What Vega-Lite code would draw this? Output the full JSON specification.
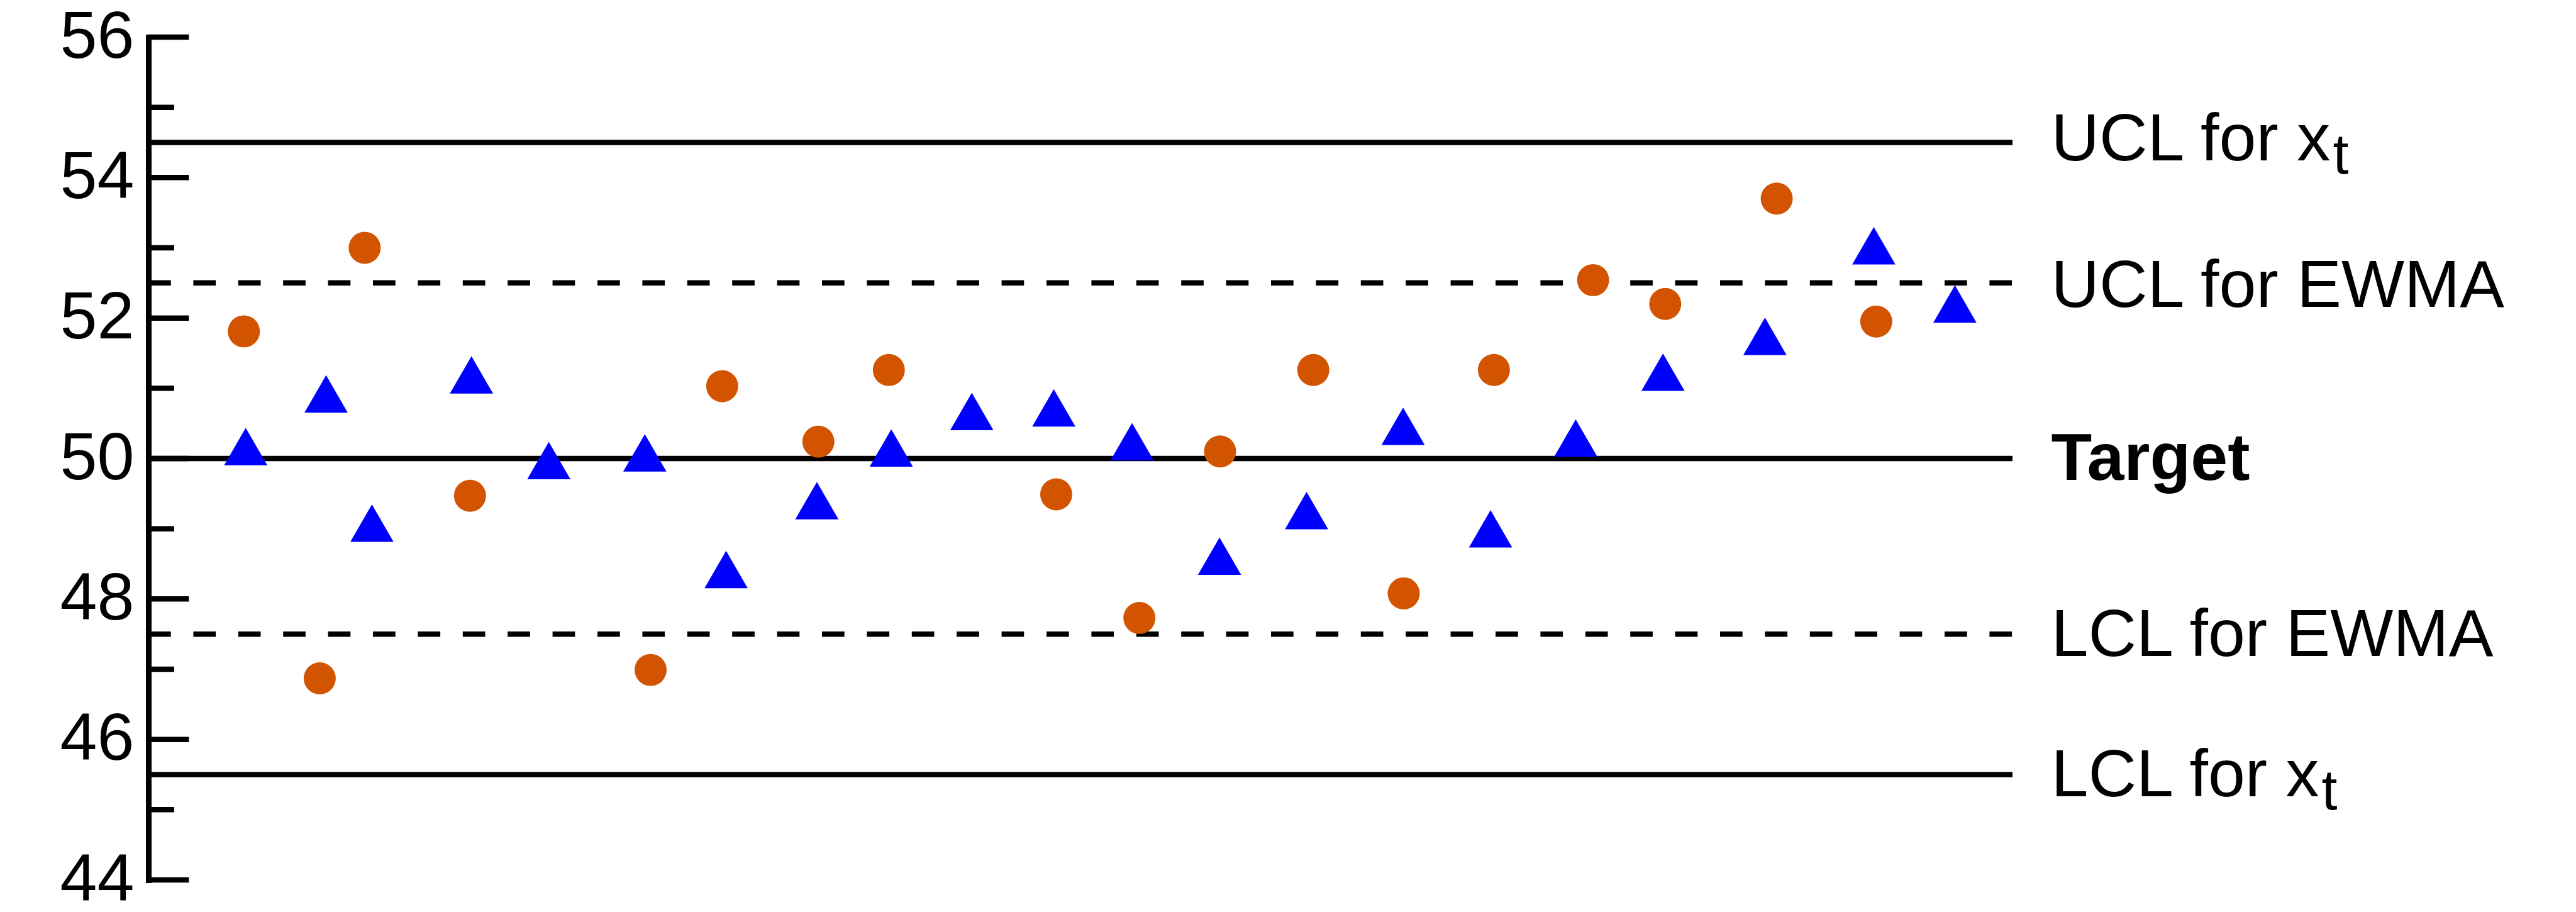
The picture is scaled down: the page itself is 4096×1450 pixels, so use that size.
{
  "$schema": "https://vega.github.io/schema/vega-lite/v6.json",
  "width": 2964,
  "height": 1340,
  "autosize": {"type": "none"},
  "padding": {"left": 236, "top": 59, "right": 896, "bottom": 51},
  "background": "white",
  "config": {"view": {"stroke": null}, "font": "Liberation Sans"},
  "datasets": {
    "xt": [
      {"t": 5.12, "v": 51.81}, {"t": 9.19, "v": 46.87}, {"t": 11.60, "v": 53.00}, {"t": 17.25, "v": 49.47},
      {"t": 26.94, "v": 46.99}, {"t": 30.78, "v": 51.03}, {"t": 35.94, "v": 50.24}, {"t": 39.72, "v": 51.26},
      {"t": 48.70, "v": 49.49}, {"t": 53.16, "v": 47.73}, {"t": 57.49, "v": 50.10}, {"t": 62.49, "v": 51.26},
      {"t": 67.34, "v": 48.08}, {"t": 72.18, "v": 51.26}, {"t": 77.50, "v": 52.54}, {"t": 81.37, "v": 52.20},
      {"t": 87.35, "v": 53.70}, {"t": 92.69, "v": 51.95}
    ],
    "ewma": [
      {"t": 5.22, "v": 50.17}, {"t": 9.53, "v": 50.92}, {"t": 11.99, "v": 49.08}, {"t": 17.33, "v": 51.19},
      {"t": 21.48, "v": 49.97}, {"t": 26.63, "v": 50.08}, {"t": 30.99, "v": 48.42}, {"t": 35.86, "v": 49.40},
      {"t": 39.85, "v": 50.15}, {"t": 44.17, "v": 50.67}, {"t": 48.57, "v": 50.72}, {"t": 52.77, "v": 50.24},
      {"t": 57.46, "v": 48.61}, {"t": 62.13, "v": 49.26}, {"t": 67.31, "v": 50.46}, {"t": 72.00, "v": 49.00},
      {"t": 76.57, "v": 50.29}, {"t": 81.25, "v": 51.23}, {"t": 86.72, "v": 51.74}, {"t": 92.56, "v": 53.03},
      {"t": 96.91, "v": 52.20}
    ],
    "limits": [
      {"level": 54.5, "label": "UCL for x", "sub": "t", "kind": "solid"},
      {"level": 52.5, "label": "UCL for EWMA", "sub": "", "kind": "dashed"},
      {"level": 50, "label": "Target", "sub": "", "kind": "solid"},
      {"level": 47.5, "label": "LCL for EWMA", "sub": "", "kind": "dashed"},
      {"level": 45.5, "label": "LCL for x", "sub": "t", "kind": "solid"}
    ],
    "major": [{"v": 44}, {"v": 46}, {"v": 48}, {"v": 50}, {"v": 52}, {"v": 54}, {"v": 56}],
    "minor": [{"v": 45}, {"v": 47}, {"v": 49}, {"v": 51}, {"v": 53}, {"v": 55}]
  },
  "layer": [
    {
      "data": {"name": "major"},
      "mark": {"type": "rule", "color": "black", "strokeWidth": 8.5},
      "encoding": {
        "y": {"field": "v", "type": "quantitative",
          "scale": {"domain": [44, 56], "nice": false, "zero": false},
          "axis": {"values": [44, 46, 48, 50, 52, 54, 56], "ticks": false, "tickSize": 0, "grid": false, "title": null,
            "labelFontSize": 106, "labelFont": "Liberation Sans", "labelColor": "black", "labelPadding": 23,
            "labelFlush": false, "labelOverlap": false, "format": "d",
            "domainColor": "black", "domainWidth": 9, "domainCap": "square"}},
        "x": {"datum": 0, "type": "quantitative", "scale": {"domain": [0, 100], "nice": false, "zero": false}, "axis": null},
        "x2": {"datum": 2.17}
      }
    },
    {
      "data": {"name": "minor"},
      "mark": {"type": "rule", "color": "black", "strokeWidth": 8.5},
      "encoding": {
        "y": {"field": "v", "type": "quantitative"},
        "x": {"datum": 0, "type": "quantitative"},
        "x2": {"datum": 1.38}
      }
    },
    {
      "data": {"name": "limits"},
      "transform": [{"filter": "datum.kind == 'solid'"}],
      "mark": {"type": "rule", "color": "black", "strokeWidth": 8.5},
      "encoding": {
        "y": {"field": "level", "type": "quantitative"},
        "x": {"datum": 0, "type": "quantitative"},
        "x2": {"datum": 100}
      }
    },
    {
      "data": {"name": "limits"},
      "transform": [{"filter": "datum.kind == 'dashed'"}],
      "mark": {"type": "rule", "color": "black", "strokeWidth": 8.5, "strokeDash": [35.7, 35.7]},
      "encoding": {
        "y": {"field": "level", "type": "quantitative"},
        "x": {"datum": 0, "type": "quantitative"},
        "x2": {"datum": 100}
      }
    },
    {
      "data": {"name": "xt"},
      "mark": {"type": "point", "shape": "circle", "filled": true, "size": 2597, "color": "#D35400", "opacity": 1, "strokeWidth": 0},
      "encoding": {
        "x": {"field": "t", "type": "quantitative"},
        "y": {"field": "v", "type": "quantitative"}
      }
    },
    {
      "data": {"name": "ewma"},
      "mark": {"type": "point", "shape": "triangle-up", "filled": true, "size": 4720, "color": "#0000FF", "opacity": 1, "strokeWidth": 0},
      "encoding": {
        "x": {"field": "t", "type": "quantitative"},
        "y": {"field": "v", "type": "quantitative"}
      }
    },
    {
      "data": {"name": "limits"},
      "transform": [{"filter": "datum.level == 54.5"}],
      "mark": {"type": "text", "align": "left", "baseline": "alphabetic", "fontSize": 106, "font": "Liberation Sans", "color": "black", "dx": 61.5, "dy": 28.5},
      "encoding": {"x": {"datum": 100, "type": "quantitative"}, "y": {"field": "level", "type": "quantitative"}, "text": {"field": "label"}}
    },
    {
      "data": {"name": "limits"},
      "transform": [{"filter": "datum.level == 52.5"}],
      "mark": {"type": "text", "align": "left", "baseline": "alphabetic", "fontSize": 106, "font": "Liberation Sans", "color": "black", "dx": 61.5, "dy": 38.5},
      "encoding": {"x": {"datum": 100, "type": "quantitative"}, "y": {"field": "level", "type": "quantitative"}, "text": {"field": "label"}}
    },
    {
      "data": {"name": "limits"},
      "transform": [{"filter": "datum.level == 50"}],
      "mark": {"type": "text", "align": "left", "baseline": "alphabetic", "fontSize": 106, "fontWeight": "bold", "font": "Liberation Sans", "color": "black", "dx": 61.5, "dy": 33.5},
      "encoding": {"x": {"datum": 100, "type": "quantitative"}, "y": {"field": "level", "type": "quantitative"}, "text": {"field": "label"}}
    },
    {
      "data": {"name": "limits"},
      "transform": [{"filter": "datum.level == 47.5"}],
      "mark": {"type": "text", "align": "left", "baseline": "alphabetic", "fontSize": 106, "font": "Liberation Sans", "color": "black", "dx": 61.5, "dy": 34.5},
      "encoding": {"x": {"datum": 100, "type": "quantitative"}, "y": {"field": "level", "type": "quantitative"}, "text": {"field": "label"}}
    },
    {
      "data": {"name": "limits"},
      "transform": [{"filter": "datum.level == 45.5"}],
      "mark": {"type": "text", "align": "left", "baseline": "alphabetic", "fontSize": 106, "font": "Liberation Sans", "color": "black", "dx": 61.5, "dy": 34},
      "encoding": {"x": {"datum": 100, "type": "quantitative"}, "y": {"field": "level", "type": "quantitative"}, "text": {"field": "label"}}
    },
    {
      "data": {"name": "limits"},
      "transform": [{"filter": "datum.level == 54.5"}],
      "mark": {"type": "text", "align": "left", "baseline": "alphabetic", "fontSize": 90, "font": "Liberation Sans", "color": "black", "dx": 509.5, "dy": 49.5},
      "encoding": {"x": {"datum": 100, "type": "quantitative"}, "y": {"field": "level", "type": "quantitative"}, "text": {"field": "sub"}}
    },
    {
      "data": {"name": "limits"},
      "transform": [{"filter": "datum.level == 45.5"}],
      "mark": {"type": "text", "align": "left", "baseline": "alphabetic", "fontSize": 90, "font": "Liberation Sans", "color": "black", "dx": 491.5, "dy": 55},
      "encoding": {"x": {"datum": 100, "type": "quantitative"}, "y": {"field": "level", "type": "quantitative"}, "text": {"field": "sub"}}
    }
  ]
}
